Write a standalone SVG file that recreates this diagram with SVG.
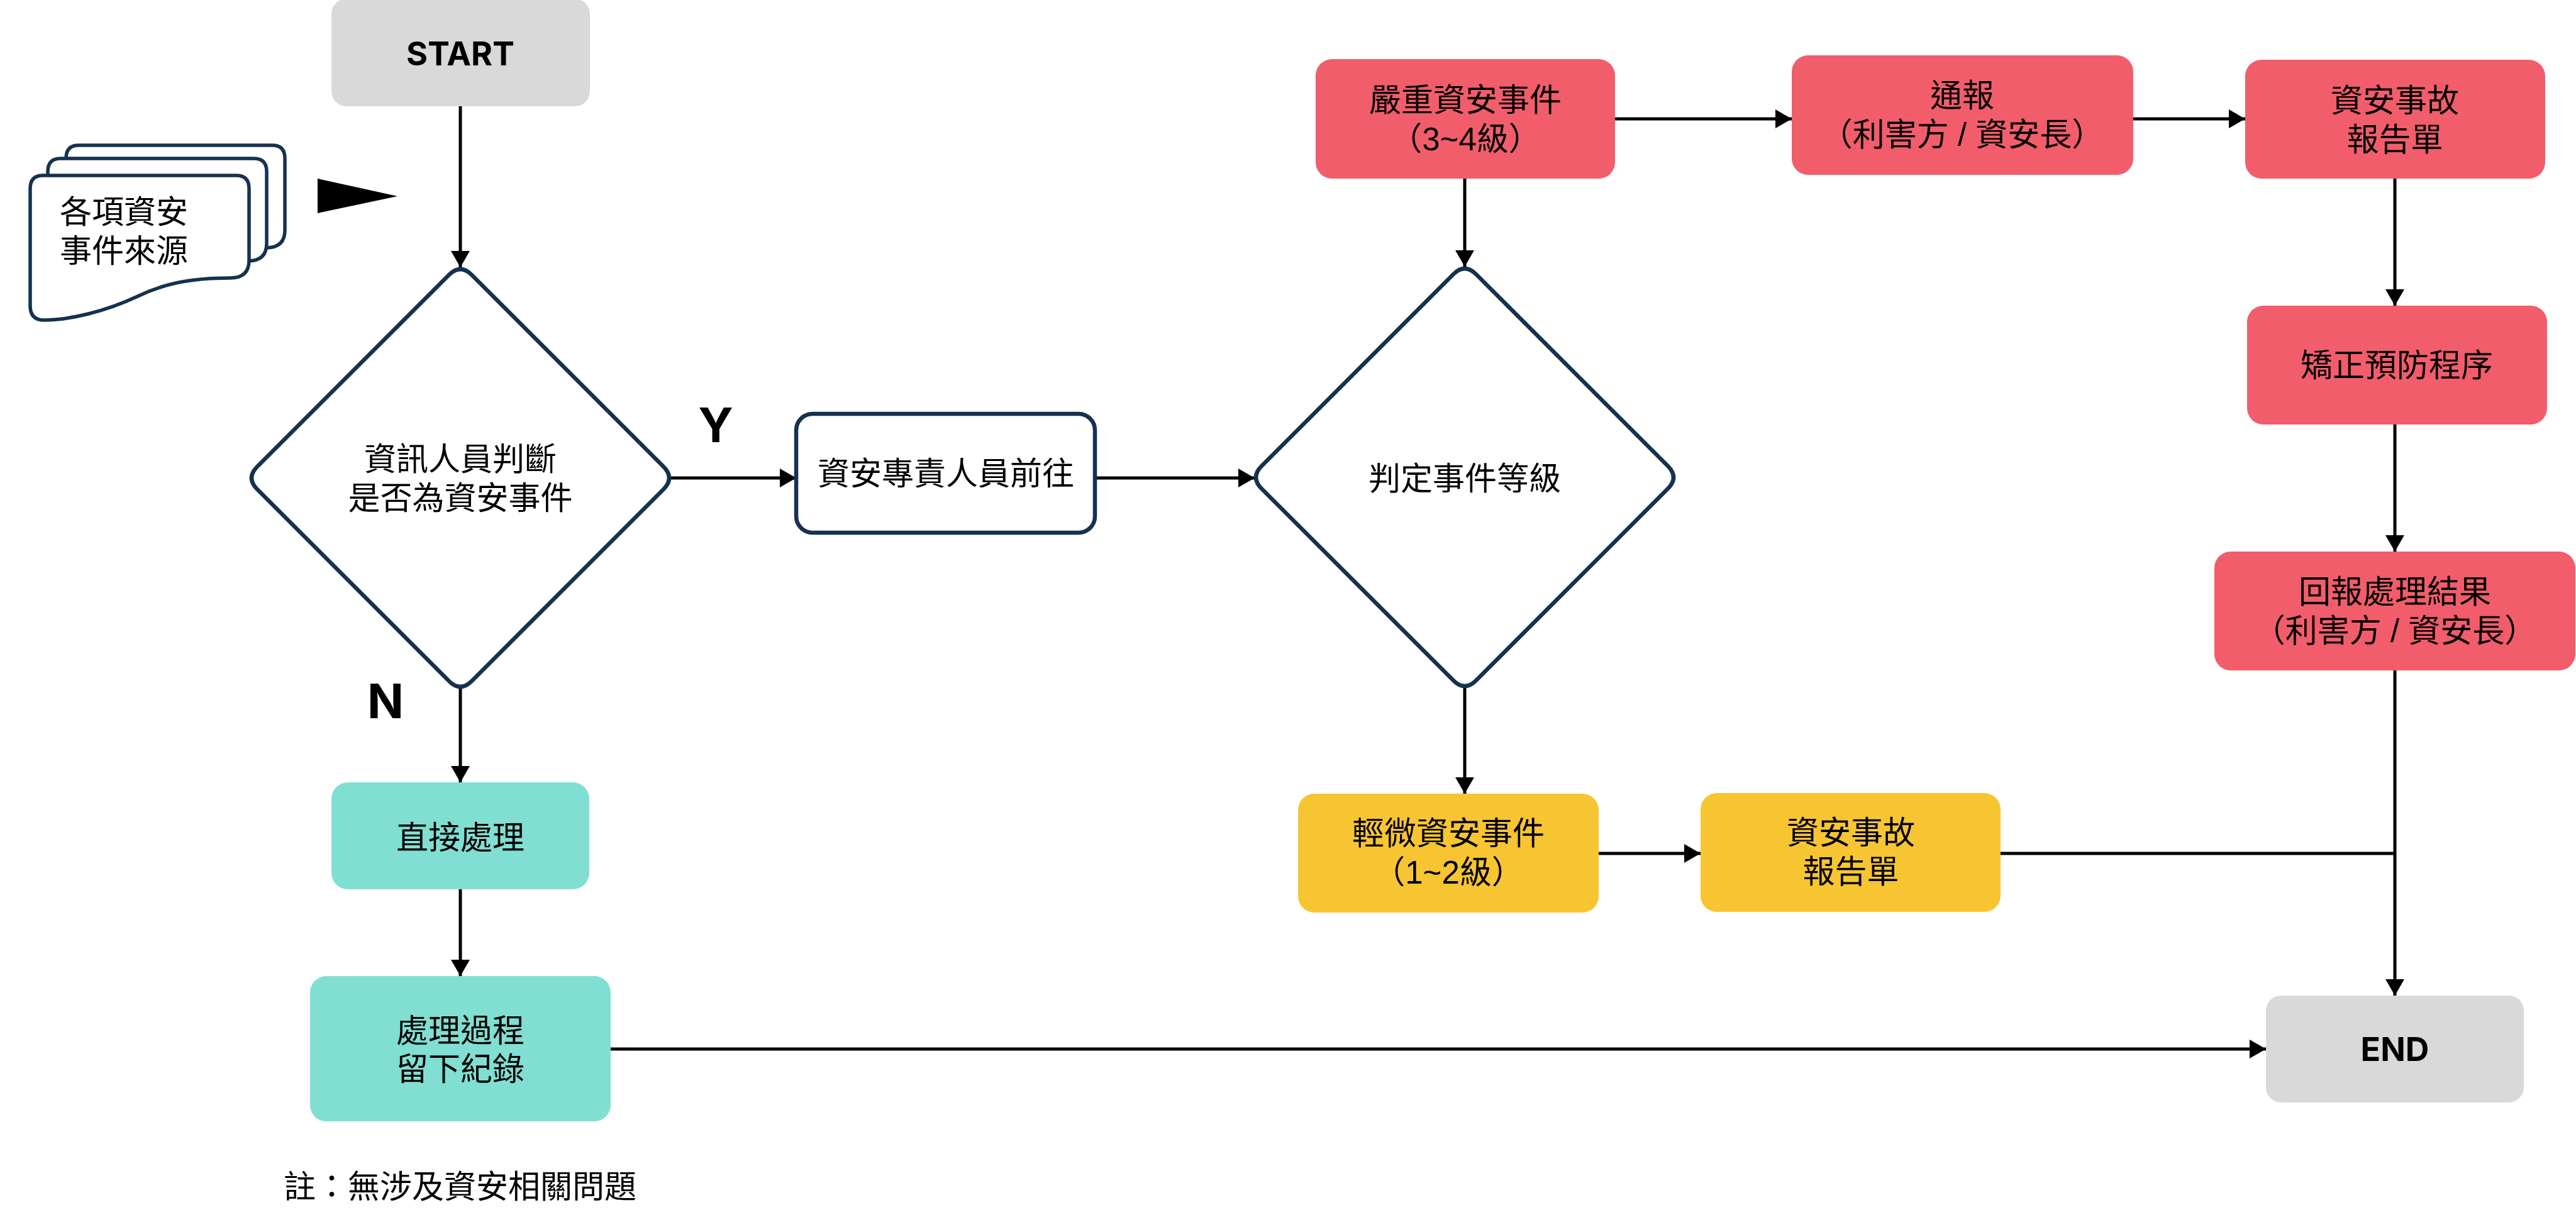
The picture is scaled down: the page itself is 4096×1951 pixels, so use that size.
<svg xmlns="http://www.w3.org/2000/svg" width="4096" height="1951" viewBox="0 0 4096 1951">
<defs>
<style>
.t{font-family:'Liberation Sans','Noto Sans CJK TC',sans-serif;font-size:51px;fill:#000;text-anchor:middle}
.b{font-family:Inter,'Liberation Sans',sans-serif;font-weight:700;fill:#000;text-anchor:middle}
.gray{fill:#D9D9D9}
.red{fill:#F25D6B}
.yel{fill:#F7C531}
.teal{fill:#80DFD2}
.out{fill:#fff;stroke:#15324F;stroke-width:6.5}
.doc{fill:#fff;stroke:#15324F;stroke-width:5.5}
.c{fill:none;stroke:#000;stroke-width:5}
</style>
<marker id="ah" markerUnits="userSpaceOnUse" markerWidth="26" markerHeight="30" refX="26" refY="15" orient="auto">
<path d="M0,0 L26,15 L0,30 Z" fill="#000"/>
</marker>
<path id="docshape" d="M68,279 H376 Q396,279 396,300 V414 Q396,442 366,442 C300,442 258,452 217,472 C170,494 112,509 70,509 Q48,509 48,486 V300 Q48,279 68,279 Z"/>
</defs>
<rect width="4096" height="1951" fill="#fff"/>

<g id="connectors">
<path class="c" d="M732,169 V425" marker-end="url(#ah)"/>
<path class="c" d="M1067,760 H1266" marker-end="url(#ah)"/>
<path class="c" d="M1741,760 H1995" marker-end="url(#ah)"/>
<path class="c" d="M2329,284 V424" marker-end="url(#ah)"/>
<path class="c" d="M2329,1094 V1262" marker-end="url(#ah)"/>
<path class="c" d="M2568,189 H2849" marker-end="url(#ah)"/>
<path class="c" d="M3392,189 H3570" marker-end="url(#ah)"/>
<path class="c" d="M3808,284 V486" marker-end="url(#ah)"/>
<path class="c" d="M3808,675 V877" marker-end="url(#ah)"/>
<path class="c" d="M3808,1066 V1583" marker-end="url(#ah)"/>
<path class="c" d="M2542,1357 H2704" marker-end="url(#ah)"/>
<path class="c" d="M3181,1357 H3808"/>
<path class="c" d="M732,1095 V1244" marker-end="url(#ah)"/>
<path class="c" d="M732,1414 V1552" marker-end="url(#ah)"/>
<path class="c" d="M971,1668 H3603" marker-end="url(#ah)"/>
<polygon points="505,284 632,312 505,339" fill="#000"/>
<text class="b" x="1138" y="703" font-size="76">Y</text>
<text class="b" x="613" y="1142" font-size="76">N</text>
</g>

<g id="start">
<rect class="gray" x="527" y="-2" width="411" height="171" rx="24"/>
<text class="b" x="732" y="104" font-size="52">START</text>
</g>

<g id="sources">
<use href="#docshape" class="doc" transform="translate(57,-48)"/>
<use href="#docshape" class="doc" transform="translate(28,-27)"/>
<use href="#docshape" class="doc"/>
<text class="t" x="197" y="355">各項資安<tspan x="197" dy="62">事件來源</tspan></text>
</g>

<g id="decision1">
<path class="out" d="M714,437 Q732,419 750,437 L1055,742 Q1073,760 1055,778 L750,1083 Q732,1101 714,1083 L409,778 Q391,760 409,742 Z"/>
<text class="t" x="732" y="748">資訊人員判斷<tspan x="732" dy="62">是否為資安事件</tspan></text>
</g>

<g id="specialist">
<rect class="out" x="1266" y="658" width="475" height="189" rx="26"/>
<text class="t" x="1504" y="771">資安專責人員前往</text>
</g>

<g id="decision2">
<path class="out" d="M2311,436 Q2329,418 2347,436 L2652,741 Q2670,759 2652,777 L2347,1082 Q2329,1100 2311,1082 L2006,777 Q1988,759 2006,741 Z"/>
<text class="t" x="2329" y="779">判定事件等級</text>
</g>

<g id="severe">
<rect class="red" x="2092" y="94" width="476" height="190" rx="26"/>
<text class="t" x="2330" y="177">嚴重資安事件<tspan x="2330" dy="62">（3~4級）</tspan></text>
</g>

<g id="notify">
<rect class="red" x="2849" y="88" width="543" height="190" rx="26"/>
<text class="t" x="3120" y="170">通報<tspan x="3120" dy="62">（利害方 / 資安長）</tspan></text>
</g>

<g id="report-red">
<rect class="red" x="3570" y="95" width="477" height="189" rx="26"/>
<text class="t" x="3808" y="178">資安事故<tspan x="3808" dy="62">報告單</tspan></text>
</g>

<g id="corrective">
<rect class="red" x="3573" y="486" width="477" height="189" rx="26"/>
<text class="t" x="3811" y="599">矯正預防程序</text>
</g>

<g id="feedback">
<rect class="red" x="3521" y="877" width="574" height="189" rx="26"/>
<text class="t" x="3808" y="959">回報處理結果<tspan x="3808" dy="62">（利害方 / 資安長）</tspan></text>
</g>

<g id="minor">
<rect class="yel" x="2064" y="1262" width="478" height="189" rx="26"/>
<text class="t" x="2303" y="1343">輕微資安事件<tspan x="2303" dy="62">（1~2級）</tspan></text>
</g>

<g id="report-yellow">
<rect class="yel" x="2704" y="1261" width="477" height="189" rx="26"/>
<text class="t" x="2943" y="1342">資安事故<tspan x="2943" dy="62">報告單</tspan></text>
</g>

<g id="direct">
<rect class="teal" x="527" y="1244" width="410" height="170" rx="26"/>
<text class="t" x="732" y="1350">直接處理</text>
</g>

<g id="record">
<rect class="teal" x="493" y="1552" width="478" height="231" rx="26"/>
<text class="t" x="732" y="1657">處理過程<tspan x="732" dy="61">留下紀錄</tspan></text>
</g>

<g id="end">
<rect class="gray" x="3603" y="1583" width="410" height="170" rx="24"/>
<text class="b" x="3808" y="1687" font-size="52">END</text>
</g>

<g id="note">
<text class="t" x="451" y="1905" style="text-anchor:start">註：無涉及資安相關問題</text>
</g>
</svg>
